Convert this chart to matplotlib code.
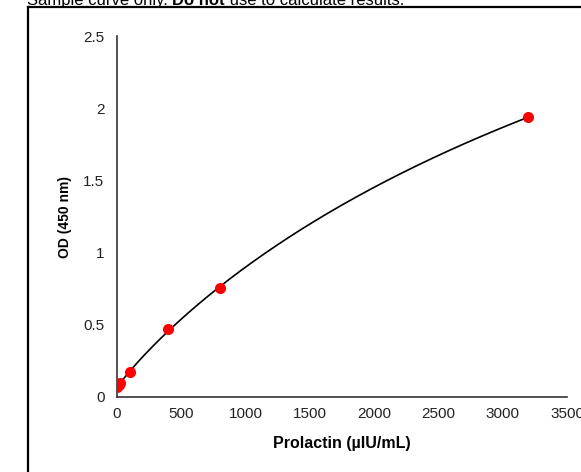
import numpy as np
import matplotlib
matplotlib.use("Agg")
import matplotlib.pyplot as plt
from matplotlib.lines import Line2D

plt.rcParams['font.family'] = ['Liberation Sans', 'DejaVu Sans']

# standard concentrations (uIU/mL) and OD readings
conc = [0, 12.5, 25, 100, 400, 800, 3200]
od = [0.07, 0.08, 0.095, 0.17, 0.47, 0.755, 1.94]
xticks = [0, 500, 1000, 1500, 2000, 2500, 3000, 3500]
yticks = [0, 0.5, 1, 1.5, 2, 2.5]
yticklabels = ['0', '0.5', '1', '1.5', '2', '2.5']

fig = plt.figure(figsize=(5.81, 4.72), dpi=100)
ax = fig.add_axes([117/581, 1-397/472, (567-117)/581, (397-36)/472])

# 4PL fit through the standards (crude grid search, a/d solved linearly)
x = np.array(conc, float)
y = np.array(od, float)
best = None
for b in np.linspace(0.5, 2.0, 61):
    for c in np.logspace(2.5, 5, 120):
        g = 1 / (1 + (x / c) ** b)
        A = np.column_stack([g, 1 - g])
        sol, *_ = np.linalg.lstsq(A, y, rcond=None)
        err = np.sum((A @ sol - y) ** 2)
        if best is None or err < best[0]:
            best = (err, b, c, sol)
_, b, c, (a, d) = best
xs = np.linspace(0, 3200, 300)
ys = d + (a - d) / (1 + (xs / c) ** b)

ax.plot(xs, ys, color='black', lw=1.2, zorder=2)
ax.plot(conc, od, 'o', color='#ff0000', ms=8, mec='none', zorder=3)

ax.set_xlim(0, 3500)
ax.set_ylim(0, 2.5)
ax.set_xticks(xticks)
ax.set_yticks(yticks)
ax.set_yticklabels(yticklabels)
ax.tick_params(length=0, labelsize=11, colors='#222222')
ax.tick_params(axis='y', pad=9)
ax.tick_params(axis='x', pad=7)
for s in ['top', 'right']:
    ax.spines[s].set_visible(False)
for s in ['left', 'bottom']:
    ax.spines[s].set_color('#333333')
    ax.spines[s].set_linewidth(1.2)

ax.set_xlabel('Prolactin (µIU/mL)', fontsize=11.5, fontweight='bold', labelpad=11)
ax.set_ylabel('OD (450 nm)', fontsize=10, fontweight='bold', labelpad=8)

# frame around chart (runs off right and bottom)
fig.add_artist(Line2D([28/581, 28/581], [1-7/472, -0.1], color='black', lw=1.6))
fig.add_artist(Line2D([28/581, 1.1], [1-7/472, 1-7/472], color='black', lw=1.6))

# heading, only bottom part visible
fig.canvas.draw()
r = fig.canvas.get_renderer()
x0 = 27/581
yb = 1-5/472
parts = [('Sample curve only. ', 'normal'), ('Do not', 'bold'), (' use to calculate results.', 'normal')]
for txt, w in parts:
    t = fig.text(x0, yb, txt, fontsize=12, fontweight=w, va='baseline', ha='left')
    bb = t.get_window_extent(renderer=r)
    x0 += bb.width / fig.bbox.width

fig.savefig('out.png', dpi=100)
